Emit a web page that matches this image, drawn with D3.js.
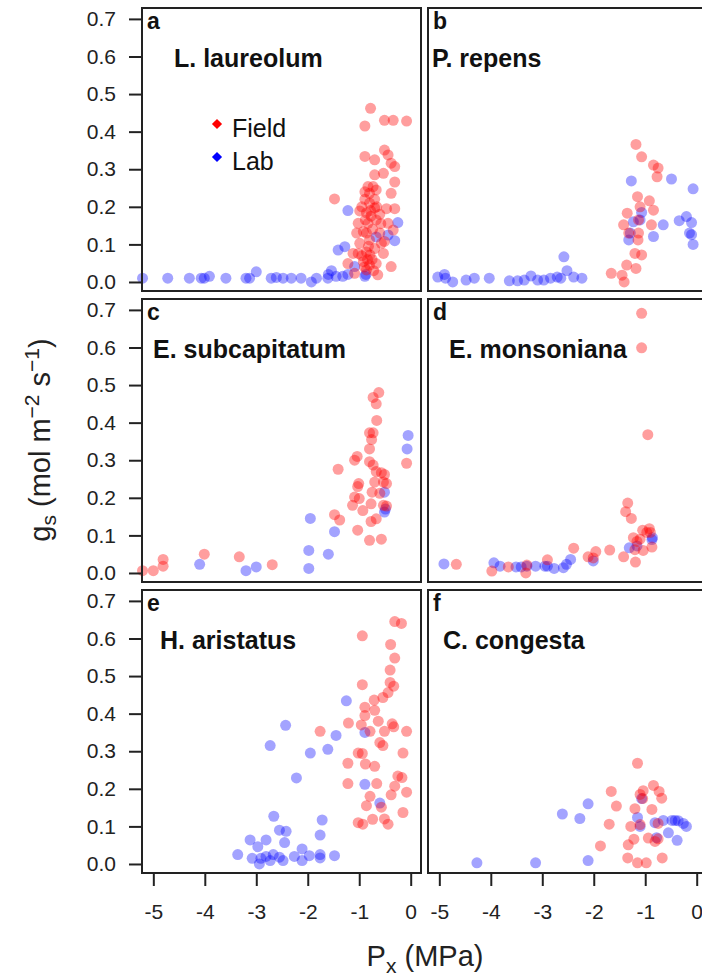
<!DOCTYPE html>
<html>
<head>
<meta charset="utf-8">
<script src="https://cdn.jsdelivr.net/npm/d3@7"></script>
<style>
  body { margin: 0; background: #fff; }
  svg { display: block; font-family: "Liberation Sans", Arial, sans-serif; }
</style>
</head>
<body>
<div id="chart"></div>
<script>

// water potential (MPa) vs stomatal conductance, [Px, gs] pairs
const fieldA = [[-1.48,0.221],[-0.78,0.462],[-0.89,0.415],[-0.51,0.43],[-0.34,0.43],[-0.08,0.428],
  [-0.89,0.334],[-0.70,0.325],[-0.51,0.351],[-0.44,0.338],[-0.38,0.316],[-0.31,0.307],[-0.70,0.285],
  [-0.53,0.289],[-0.31,0.266],[-0.38,0.236],[-0.89,0.24],[-0.80,0.236],[-0.67,0.245],[-0.89,0.22],
  [-0.70,0.22],[-0.99,0.189],[-0.86,0.184],[-0.70,0.197],[-0.60,0.18],[-0.47,0.195],[-0.31,0.195],
  [-1.02,0.156],[-0.83,0.156],[-0.67,0.165],[-0.44,0.156],[-0.34,0.138],[-0.99,0.103],[-0.80,0.112],
  [-0.60,0.13],[-0.51,0.108],[-1.02,0.076],[-0.86,0.08],[-0.70,0.089],[-0.53,0.076],[-0.92,0.054],
  [-0.80,0.045],[-0.67,0.049],[-0.38,0.041],[-1.09,0.023],[-0.86,0.032],[-0.64,0.019],[-1.22,0.049],
  [-1.12,0.076],[-0.86,0.13],[-0.77,0.175],[-0.73,0.254],[-0.83,0.254],[-0.57,0.103],[-0.92,0.134],
  [-0.80,0.21],[-0.75,0.06],[-0.95,0.07],[-0.82,0.095],[-0.74,0.14],[-0.88,0.165],[-0.79,0.072],
  [-0.72,0.03],[-0.95,0.2],[-0.66,0.2],[-0.84,0.06],[-1.05,0.13],[-0.58,0.155],[-0.78,0.19],
  [-0.9,0.04]];
const labA = [[-5.21,0.01],[-4.72,0.01],[-4.30,0.01],[-4.07,0.01],[-4.01,0.01],[-3.91,0.015],
  [-3.59,0.01],[-3.20,0.01],[-3.13,0.01],[-3.00,0.027],[-2.71,0.01],[-2.61,0.012],[-2.48,0.01],
  [-2.32,0.01],[-2.13,0.01],[-1.93,0.0],[-1.83,0.01],[-1.61,0.01],[-1.54,0.03],[-1.45,0.015],
  [-1.32,0.015],[-1.41,0.085],[-1.28,0.094],[-1.22,0.19],[-1.09,0.041],[-0.89,0.015],[-0.87,0.02],
  [-0.67,0.12],[-0.44,0.125],[-0.31,0.11],[-0.25,0.158],[-1.22,0.02],[-1.6,0.02]];

const fieldB = [[-1.18,0.366],[-1.07,0.333],[-0.84,0.311],[-0.75,0.303],[-0.77,0.28],[-1.15,0.227],
  [-0.92,0.216],[-1.10,0.2],[-0.84,0.191],[-1.35,0.183],[-1.13,0.165],[-1.42,0.152],[-0.88,0.152],
  [-1.13,0.13],[-1.32,0.13],[-1.14,0.112],[-1.20,0.076],[-1.07,0.072],[-1.36,0.045],[-1.18,0.036],
  [-1.66,0.023],[-1.45,0.018],[-1.41,0.0]];
const labB = [[-5.03,0.013],[-4.90,0.02],[-4.88,0.01],[-4.74,0.0],[-4.48,0.005],[-4.32,0.01],
  [-4.03,0.01],[-3.64,0.003],[-3.48,0.003],[-3.22,0.016],[-3.09,0.005],[-2.97,0.005],[-2.84,0.01],
  [-2.71,0.013],[-2.58,0.067],[-2.52,0.03],[-2.39,0.013],[-2.23,0.01],[-2.64,0.01],[-3.35,0.005],
  [-1.27,0.269],[-1.23,0.16],[-1.29,0.13],[-1.32,0.112],[-1.10,0.165],[-1.07,0.185],[-0.84,0.121],
  [-0.65,0.152],[-0.49,0.274],[-0.34,0.163],[-0.20,0.174],[-0.10,0.158],[-0.14,0.13],[-0.07,0.1],
  [-0.07,0.248],[-0.10,0.126]];

const fieldC = [[-5.21,0.006],[-5.0,0.006],[-4.81,0.036],[-4.81,0.018],[-4.01,0.05],[-3.33,0.043],
  [-2.69,0.022],[-1.41,0.276],[-1.48,0.155],[-1.38,0.141],[-1.09,0.30],[-1.04,0.31],[-1.01,0.238],
  [-1.03,0.23],[-1.09,0.202],[-1.0,0.198],[-1.13,0.18],[-0.93,0.166],[-1.03,0.114],[-0.80,0.087],
  [-0.57,0.09],[-0.73,0.467],[-0.62,0.48],[-0.67,0.45],[-0.66,0.406],[-0.73,0.373],[-0.80,0.373],
  [-0.76,0.355],[-0.80,0.33],[-0.80,0.296],[-0.73,0.287],[-0.67,0.27],[-0.57,0.267],[-0.51,0.262],
  [-0.70,0.242],[-0.53,0.242],[-0.47,0.238],[-0.75,0.215],[-0.60,0.212],[-0.77,0.184],[-0.53,0.18],
  [-0.47,0.178],[-0.67,0.144],[-0.77,0.137],[-0.08,0.292]];
const labC = [[-4.10,0.023],[-3.20,0.006],[-3.00,0.016],[-1.98,0.012],[-1.98,0.06],[-1.95,0.145],
  [-1.60,0.05],[-1.48,0.11],[-0.51,0.215],[-0.51,0.162],[-0.05,0.366],[-0.07,0.33],[-0.49,0.17]];

const fieldD = [[-1.07,0.691],[-1.07,0.599],[-0.95,0.368],[-1.34,0.186],[-1.38,0.163],[-1.27,0.145],
  [-1.05,0.114],[-0.92,0.118],[-0.97,0.108],[-0.90,0.108],[-1.23,0.094],[-1.16,0.084],[-1.10,0.09],
  [-0.87,0.069],[-1.04,0.06],[-1.20,0.062],[-1.42,0.043],[-1.19,0.029],[-1.69,0.061],[-1.96,0.057],
  [-2.11,0.043],[-2.39,0.066],[-2.90,0.035],[-3.30,0.021],[-3.32,0.0],[-3.66,0.016],[-3.98,0.005],
  [-4.67,0.023],[-2.01,0.04]];
const labD = [[-4.91,0.024],[-3.94,0.027],[-3.82,0.018],[-3.51,0.016],[-3.30,0.018],[-3.13,0.018],
  [-2.95,0.018],[-2.77,0.012],[-2.59,0.014],[-2.53,0.023],[-2.45,0.036],[-2.01,0.032],[-1.31,0.067],
  [-1.16,0.072],[-0.86,0.094],[-0.87,0.089],[-2.90,0.018],[-3.41,0.016]];

const fieldE = [[-0.31,0.645],[-0.18,0.64],[-0.94,0.607],[-0.39,0.584],[-0.31,0.548],[-0.40,0.516],
  [-0.94,0.477],[-0.40,0.483],[-0.33,0.473],[-0.44,0.456],[-0.54,0.443],[-0.71,0.436],[-0.89,0.417],
  [-0.70,0.409],[-0.89,0.395],[-0.63,0.38],[-1.21,0.375],[-0.96,0.37],[-0.36,0.373],[-0.33,0.365],
  [-0.79,0.353],[-0.51,0.353],[-1.76,0.353],[-0.08,0.353],[-0.60,0.323],[-0.54,0.315],[-1.02,0.295],
  [-0.94,0.294],[-0.15,0.295],[-1.22,0.268],[-0.88,0.266],[-0.70,0.26],[-0.25,0.234],[-0.17,0.23],
  [-1.22,0.214],[-0.66,0.214],[-0.31,0.207],[-0.08,0.191],[-0.79,0.18],[-0.38,0.184],[-0.86,0.155],
  [-0.57,0.151],[-0.15,0.137],[-1.02,0.11],[-0.93,0.106],[-0.74,0.119],[-0.51,0.12],[-0.44,0.106]];
const labE = [[-1.25,0.434],[-2.43,0.369],[-1.45,0.342],[-2.73,0.315],[-1.61,0.305],[-1.95,0.295],
  [-2.22,0.229],[-0.89,0.35],[-0.89,0.212],[-0.60,0.162],[-2.66,0.127],[-1.72,0.117],[-2.55,0.09],
  [-2.42,0.087],[-1.76,0.077],[-3.12,0.064],[-2.81,0.064],[-2.97,0.046],[-2.45,0.057],[-3.36,0.025],
  [-3.08,0.015],[-2.91,0.015],[-2.81,0.02],[-2.67,0.025],[-2.55,0.018],[-2.48,0.009],[-2.94,0.0],
  [-2.26,0.02],[-2.11,0.04],[-2.11,0.009],[-1.97,0.022],[-1.76,0.025],[-1.76,0.016],[-1.48,0.022],
  [-2.73,0.009]];

const fieldF = [[-1.15,0.268],[-1.66,0.193],[-0.84,0.209],[-0.73,0.193],[-1.04,0.195],[-0.68,0.175],
  [-1.10,0.185],[-1.56,0.154],[-1.20,0.147],[-0.87,0.145],[-1.70,0.106],[-1.28,0.1],[-1.10,0.105],
  [-0.75,0.108],[-1.22,0.066],[-0.94,0.069],[-0.81,0.06],[-0.75,0.067],[-1.87,0.048],[-1.33,0.051],
  [-1.34,0.016],[-1.15,0.003],[-0.98,0.003],[-0.67,0.016],[-1.05,0.174]];
const labF = [[-4.27,0.003],[-3.13,0.003],[-2.11,0.009],[-2.61,0.133],[-2.27,0.121],[-2.11,0.16],
  [-1.15,0.124],[-1.10,0.1],[-1.07,0.174],[-0.81,0.11],[-0.65,0.116],[-0.55,0.083],[-0.42,0.116],
  [-0.36,0.115],[-0.26,0.108],[-0.20,0.1],[-0.38,0.063],[-0.78,0.07],[-0.48,0.116]];

const panelLetters = ['a', 'b', 'c', 'd', 'e', 'f'];
const speciesNames = ['L. laureolum', 'P. repens', 'E. subcapitatum', 'E. monsoniana', 'H. aristatus', 'C. congesta'];
const fieldSets = [fieldA, fieldB, fieldC, fieldD, fieldE, fieldF];
const labSets = [labA, labB, labC, labD, labE, labF];
const xTicks = [-5, -4, -3, -2, -1, 0];
const yTicks = [0, 0.1, 0.2, 0.3, 0.4, 0.5, 0.6, 0.7];
const legendLabels = ['Field', 'Lab'];

const width = 702;
const height = 980;
const colLeft = [142, 428];
const rowTop = [8, 299, 590];
const pw = 279;
const ph = 283;
const fieldColor = 'rgba(255,0,0,0.38)';
const labColor = 'rgba(0,0,255,0.36)';
// where each species name sits inside its box
const nameOffset = [32, 4, 11, 21, 18, 15];

const svg = d3.select('#chart')
    .append('svg')
    .attr('width', width)
    .attr('height', height);

fieldSets.forEach((field, i) => {
    const col = i % 2;
    const row = Math.floor(i / 2);
    const left = colLeft[col];
    const top = rowTop[row];

    const x = d3.scaleLinear().domain([-5.22, 0.2]).range([left, left + pw]);
    const y = d3.scaleLinear().domain([-0.024, 0.729]).range([top + ph, top]);

    const g = svg.append('g').attr('class', 'panel');

    // lab first, field on top
    g.selectAll('circle.lab')
        .data(labSets[i])
        .enter()
        .append('circle')
        .attr('class', 'lab')
        .attr('cx', d => x(d[0]))
        .attr('cy', d => y(d[1]))
        .attr('r', 5.5)
        .attr('fill', labColor);

    g.selectAll('circle.field')
        .data(field)
        .enter()
        .append('circle')
        .attr('class', 'field')
        .attr('cx', d => x(d[0]))
        .attr('cy', d => y(d[1]))
        .attr('r', 5.5)
        .attr('fill', fieldColor);

    g.append('rect')
        .attr('x', left)
        .attr('y', top)
        .attr('width', pw)
        .attr('height', ph)
        .attr('fill', 'none')
        .attr('stroke', '#222')
        .attr('stroke-width', 2);

    g.append('text')
        .attr('x', left + 5)
        .attr('y', top + 21)
        .attr('font-size', 23)
        .attr('font-weight', 'bold')
        .attr('fill', '#111')
        .text(panelLetters[i]);

    g.append('text')
        .attr('x', left + nameOffset[i])
        .attr('y', top + 59)
        .attr('font-size', 25)
        .attr('font-weight', 'bold')
        .attr('fill', '#111')
        .text(speciesNames[i]);

    if (col === 0) {
        const ay = svg.append('g')
            .attr('transform', `translate(${left}, 0)`)
            .call(d3.axisLeft(y)
                .tickValues(yTicks)
                .tickFormat(d3.format('.1f'))
                .tickSize(13)
                .tickPadding(13));
        styleAxis(ay);
    }

    if (row === 2) {
        const ax = svg.append('g')
            .attr('transform', `translate(0, ${top + ph})`)
            .call(d3.axisBottom(x)
                .tickValues(xTicks)
                .tickFormat(d => String(d))
                .tickSize(13)
                .tickPadding(18));
        styleAxis(ax);
    }

    if (i === 0) {
        const legend = g.append('g');
        legendLabels.forEach((lab, k) => {
            const ly = 124 + k * 33;
            legend.append('path')
                .attr('d', d3.symbol(d3.symbolSquare, 52)())
                .attr('transform', `translate(217, ${ly}) rotate(45)`)
                .attr('fill', k === 0 ? 'red' : 'blue');
            legend.append('text')
                .attr('x', 232)
                .attr('y', ly + 13)
                .attr('font-size', 25)
                .attr('fill', '#111')
                .text(lab);
        });
    }
});

function styleAxis(sel) {
    sel.select('.domain').remove();
    sel.selectAll('.tick line').attr('stroke', '#222').attr('stroke-width', 2);
    sel.selectAll('.tick text')
        .attr('font-size', 21)
        .attr('font-family', '"Liberation Sans", Arial, sans-serif')
        .attr('fill', '#222');
}

// axis titles
const xTitle = svg.append('text')
    .attr('x', 425)
    .attr('y', 966)
    .attr('text-anchor', 'middle')
    .attr('font-size', 29)
    .attr('fill', '#222');
xTitle.append('tspan').text('P');
xTitle.append('tspan').attr('font-size', 21).attr('dy', 7).text('x');
xTitle.append('tspan').attr('dy', -7).text(' (MPa)');

const yTitle = svg.append('text')
    .attr('transform', 'translate(50, 440) rotate(-90)')
    .attr('text-anchor', 'middle')
    .attr('font-size', 29)
    .attr('fill', '#222');
yTitle.append('tspan').text('g');
yTitle.append('tspan').attr('font-size', 21).attr('dy', 6).text('s');
yTitle.append('tspan').attr('dy', -6).text(' (mol m');
yTitle.append('tspan').attr('font-size', 21).attr('dy', -11).text('\u22122');
yTitle.append('tspan').attr('dy', 11).text(' s');
yTitle.append('tspan').attr('font-size', 21).attr('dy', -11).text('\u22121');
yTitle.append('tspan').attr('dy', 11).text(')');

</script>
</body>
</html>
